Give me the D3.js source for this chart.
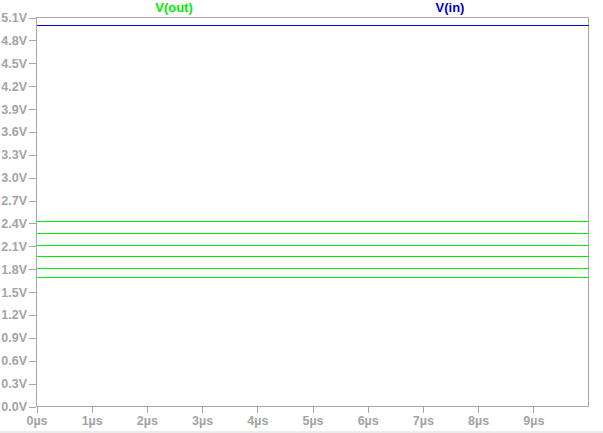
<!DOCTYPE html>
<meta charset="utf-8">
<style>
body { margin: 0; background: #fff; }
svg { display: block; }
.axis text { font: bold 12.5px "Liberation Sans", Arial, sans-serif; fill: #a4a4a4; }
.axis line, .axis path { stroke: #a8a8a8; shape-rendering: crispEdges; }
.trace { fill: none; stroke-width: 1px; shape-rendering: crispEdges; }
.label { font: bold 13px "Liberation Sans", Arial, sans-serif; text-anchor: middle; }
</style>
<body>
<svg width="603" height="433"></svg>
<script src="https://cdn.jsdelivr.net/npm/d3@7"></script>
<script>
// time points (µs) of the transient run
var times = [0, 10];
// V(in): flat 5 V source
var vin = [5.0, 5.0];
// V(out): one flat trace per stepped run
var voutRuns = [
  [2.42, 2.42],
  [2.264, 2.264],
  [2.115, 2.115],
  [1.963, 1.963],
  [1.813, 1.813],
  [1.687, 1.687]
];
var yTicks = [0, 0.3, 0.6, 0.9, 1.2, 1.5, 1.8, 2.1, 2.4, 2.7, 3.0, 3.3, 3.6, 3.9, 4.2, 4.5, 4.8, 5.1];
var xTicks = [0, 1, 2, 3, 4, 5, 6, 7, 8, 9];
var traceNames = ["V(out)", "V(in)"];
var traceColors = ["#00ee00", "#0000d0"];

var svg = d3.select("svg"),
    margin = {top: 17, right: 15, bottom: 27, left: 36},
    width = 603 - margin.left - margin.right,
    height = 433 - margin.top - margin.bottom;

// light strip at the very bottom of the window
svg.append("rect")
    .attr("x", 0).attr("y", 431)
    .attr("width", 603).attr("height", 2)
    .attr("fill", "#ececec");

var g = svg.append("g").attr("transform", "translate(" + margin.left + "," + margin.top + ")");

var x = d3.scaleLinear().domain([0, 10]).range([0.5, width + 0.5]),
    y = d3.scaleLinear().domain([0, 5.1]).range([height + 0.5, 0.5]);

// frame
g.append("rect")
    .attr("x", 0.5).attr("y", 0.5)
    .attr("width", width).attr("height", height)
    .attr("fill", "none")
    .attr("stroke", "#a8a8a8")
    .style("shape-rendering", "crispEdges");

g.append("g")
    .attr("class", "axis")
    .call(d3.axisLeft(y).tickValues(yTicks).tickSize(7).tickPadding(2)
      .tickFormat(function(d) { return d3.format(".1f")(d) + "V"; }))
    .call(function(a) { a.select(".domain").remove(); });

g.append("g")
    .attr("class", "axis")
    .attr("transform", "translate(0," + height + ")")
    .call(d3.axisBottom(x).tickValues(xTicks).tickSize(7).tickPadding(3)
      .tickFormat(function(d) { return d + "\u00b5s"; }))
    .call(function(a) { a.select(".domain").remove(); });

var line = d3.line()
    .x(function(d, i) { return x(times[i]); })
    .y(function(d) { return y(d); });

g.selectAll(".vout")
    .data(voutRuns)
  .enter().append("path")
    .attr("class", "trace vout")
    .attr("stroke", traceColors[0])
    .attr("d", line);

g.append("path")
    .datum(vin)
    .attr("class", "trace")
    .attr("stroke", traceColors[1])
    .attr("d", line);

// trace names above the plot at quarter positions
svg.selectAll(".label")
    .data(traceNames)
  .enter().append("text")
    .attr("class", "label")
    .attr("x", function(d, i) { return margin.left + width * (0.25 + 0.5 * i); })
    .attr("y", 12)
    .attr("fill", function(d, i) { return traceColors[i]; })
    .text(function(d) { return d; });
</script>
</body>
